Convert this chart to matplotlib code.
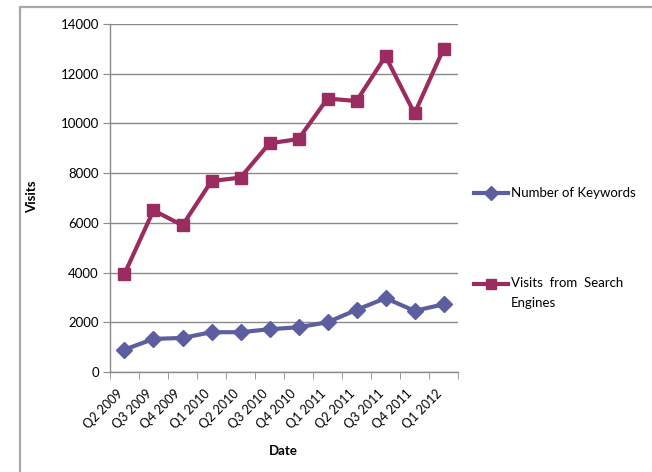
import matplotlib.pyplot as plt
import matplotlib.transforms as mtransforms
from matplotlib.lines import Line2D
from matplotlib.patches import Rectangle
import numpy as np

plt.rcParams['font.family'] = ['Lato', 'DejaVu Sans']

quarters = ['Q2 2009', 'Q3 2009', 'Q4 2009', 'Q1 2010', 'Q2 2010', 'Q3 2010',
            'Q4 2010', 'Q1 2011', 'Q2 2011', 'Q3 2011', 'Q4 2011', 'Q1 2012']
keywords = [900, 1330, 1370, 1600, 1600, 1720, 1800, 2000, 2500, 2970, 2460, 2720]
search_visits = [3950, 6500, 5900, 7680, 7820, 9200, 9370, 11000, 10900, 12700, 10400, 13000]

kw_color = '#5C5E9F'
sv_color = '#9B2C5F'
grid_color = '#8a8a8a'

fig = plt.figure(figsize=(6.52, 4.72), dpi=100)
ax = fig.add_axes([0.1687, 0.2119, 0.5338, 0.7373])

# outer chart border
fig.add_artist(Rectangle((20 / 652, -0.05), 1.0, 1 - 7 / 472 + 0.05, transform=fig.transFigure,
                         fill=False, edgecolor='#a8a8a8', linewidth=1.6))

x = np.arange(len(quarters))
ax.plot(x, keywords, color=kw_color, linewidth=3, marker='D', markersize=8, zorder=3)
ax.plot(x, search_visits, color=sv_color, linewidth=3, marker='s', markersize=8, zorder=3)

ax.set_xlim(-0.5, len(quarters) - 0.5)
ax.set_ylim(0, 14000)
ax.set_yticks(np.arange(0, 14001, 2000))
ax.yaxis.grid(True, color=grid_color, linewidth=1)
ax.set_axisbelow(True)

for side in ['top', 'right']:
    ax.spines[side].set_visible(False)
for side in ['left', 'bottom']:
    ax.spines[side].set_color(grid_color)
    ax.spines[side].set_linewidth(1)

ax.tick_params(axis='y', length=5, color=grid_color, labelsize=9.5, pad=3)
ax.set_xticks(np.arange(-0.5, len(quarters)), minor=True)
ax.set_xticks(x)
ax.set_xticklabels(quarters, rotation=45, ha='right', va='top',
                   rotation_mode='anchor', fontsize=9)
ax.tick_params(axis='x', which='major', length=0, pad=11)
ax.tick_params(axis='x', which='minor', length=5, color=grid_color)
offset = mtransforms.ScaledTranslation(-6 / 72, 0, fig.dpi_scale_trans)
for lbl in ax.get_xticklabels():
    lbl.set_transform(lbl.get_transform() + offset)

fig.text(283 / 652, 1 - 451 / 472, 'Date', ha='center', va='center',
         fontsize=9.5, fontweight='bold')
fig.text(32 / 652, 1 - 197 / 472, 'Visits', ha='center', va='center',
         rotation=90, fontsize=9.5, fontweight='bold')

# legend
legend_items = [(kw_color, 'D', 193, 'Number of Keywords'),
                (sv_color, 's', 284, 'Visits  from  Search\nEngines')]
for color, mk, ypix, label in legend_items:
    yf = 1 - ypix / 472
    fig.add_artist(Line2D([474 / 652, 508 / 652], [yf, yf], transform=fig.transFigure,
                          color=color, linewidth=3))
    fig.add_artist(Line2D([491 / 652], [yf], transform=fig.transFigure, color=color,
                          marker=mk, markersize=7, linestyle='none'))
    multi = '\n' in label
    tr = fig.transFigure
    if multi:
        tr = tr + mtransforms.ScaledTranslation(0, 5 / 72, fig.dpi_scale_trans)
    fig.text(511 / 652, yf, label, ha='left', va='top' if multi else 'center',
             fontsize=9.5, linespacing=1.75, transform=tr)

fig.savefig('out.png', dpi=100, facecolor='white')
